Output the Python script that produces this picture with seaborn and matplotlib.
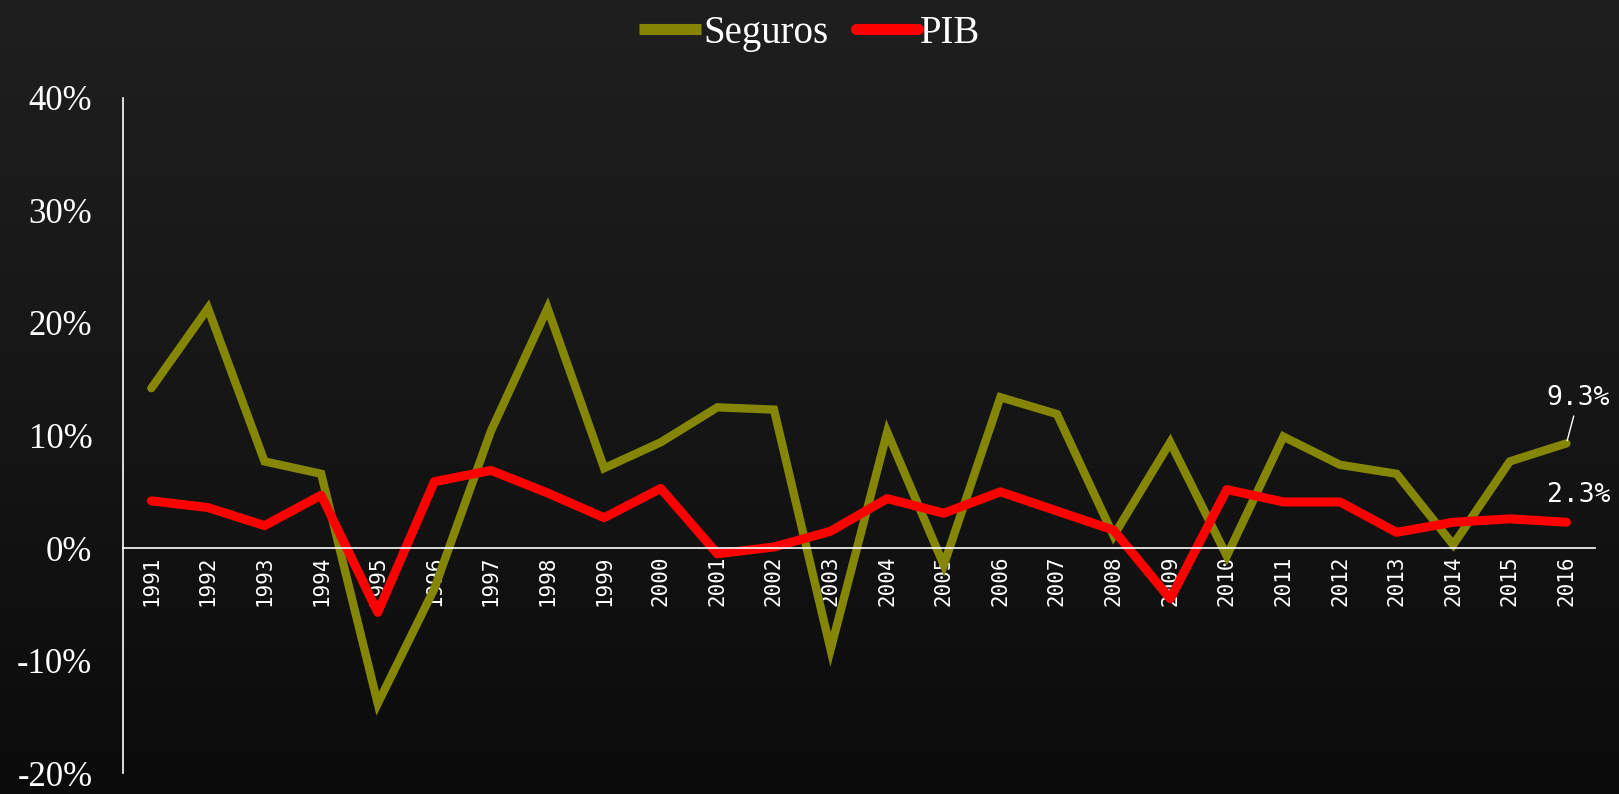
import numpy as np
import pandas as pd
import seaborn as sns
import matplotlib.pyplot as plt
from matplotlib.ticker import FuncFormatter

anos = list(range(1991, 2017))
seguros = [14.2, 21.3, 7.7, 6.6, -13.8, -3.6, 10.4, 21.3, 7.1, 9.4, 12.5, 12.3, -9.0,
           10.3, -1.5, 13.4, 11.9, 1.1, 9.4, -0.7, 9.9, 7.4, 6.6, 0.3, 7.7, 9.3]
pib = [4.2, 3.6, 2.0, 4.7, -5.7, 5.9, 6.9, 4.9, 2.7, 5.3, -0.5, 0.1, 1.5,
       4.4, 3.1, 5.0, 3.3, 1.6, -4.5, 5.2, 4.1, 4.1, 1.4, 2.3, 2.6, 2.3]

df = pd.DataFrame({'Ano': anos * 2,
                   'Crescimento': seguros + pib,
                   'Serie': ['Seguros'] * len(anos) + ['PIB'] * len(anos)})

sns.set_style('dark')
plt.rcParams['font.family'] = ['Liberation Serif', 'DejaVu Serif']

fig = plt.figure(figsize=(16.19, 7.94), dpi=100)

# fundo escuro com gradiente
bg = fig.add_axes([0, 0, 1, 1], zorder=-10)
grad = np.linspace(0, 1, 256).reshape(-1, 1)
bg.imshow(grad, aspect='auto', cmap=plt.matplotlib.colors.LinearSegmentedColormap.from_list(
    'fundo', ['#1f1f1f', '#161616', '#0b0b0b']), extent=[0, 1, 0, 1])
bg.axis('off')

ax = fig.add_axes([0.076, 0.026, 0.909, 0.851])
ax.set_facecolor('none')

cores = {'Seguros': '#858506', 'PIB': '#ff0000'}
sns.lineplot(x='Ano', y='Crescimento', hue='Serie', data=df, palette=cores,
             sort=False, ax=ax, legend=False)
for linha, lw in zip(ax.lines, [6.0, 6.5]):
    linha.set_linewidth(lw)
    linha.set_solid_joinstyle('miter')
ax.lines[1].set_solid_capstyle('round')
ax.lines[1].set_solid_joinstyle('round')

for lado in ['top', 'right']:
    ax.spines[lado].set_visible(False)
ax.spines['left'].set_color('white')
ax.spines['left'].set_linewidth(1.2)
ax.spines['bottom'].set_position(('data', 0))
ax.spines['bottom'].set_color('white')
ax.spines['bottom'].set_linewidth(1.2)

ax.set_xlim(1990.5, 2016.5)
ax.set_ylim(-20, 40)
ax.set_yticks(range(-20, 41, 10))
ax.yaxis.set_major_formatter(FuncFormatter(lambda v, p: '%d%%' % v))
ax.set_xticks(anos)
ax.set_xticklabels([str(a) for a in anos], rotation=90, color='white',
                   family='DejaVu Sans Mono', fontsize=15, va='top')
ax.tick_params(axis='y', colors='white', labelsize=25, length=0, pad=22)
ax.tick_params(axis='x', length=0, pad=5)
ax.grid(False)
ax.set_xlabel('')
ax.set_ylabel('')

# rótulos finais
ax.annotate('9.3%', xy=(2016, 9.3), xytext=(12, 45), textcoords='offset pixels',
            ha='center', va='center', color='white', family='DejaVu Sans Mono',
            fontsize=19, arrowprops=dict(arrowstyle='-', color='white', lw=1,
                                         shrinkA=1, shrinkB=2))
ax.annotate('2.3%', xy=(2016, 2.3), xytext=(12, 27), textcoords='offset pixels',
            ha='center', va='center', color='white', family='DejaVu Sans Mono',
            fontsize=19)

handles = [plt.Line2D([], [], color=cores['Seguros'], lw=8, solid_capstyle='butt'),
           plt.Line2D([], [], color=cores['PIB'], lw=8, solid_capstyle='round')]
leg = fig.legend(handles, ['Seguros', 'PIB'], loc='center', bbox_to_anchor=(0.5, 0.958),
                 ncol=2, frameon=False, fontsize=28, handlelength=1.6,
                 handletextpad=0.05, columnspacing=0.7)
for t in leg.get_texts():
    t.set_color('white')

plt.savefig('out.png', dpi=100)
